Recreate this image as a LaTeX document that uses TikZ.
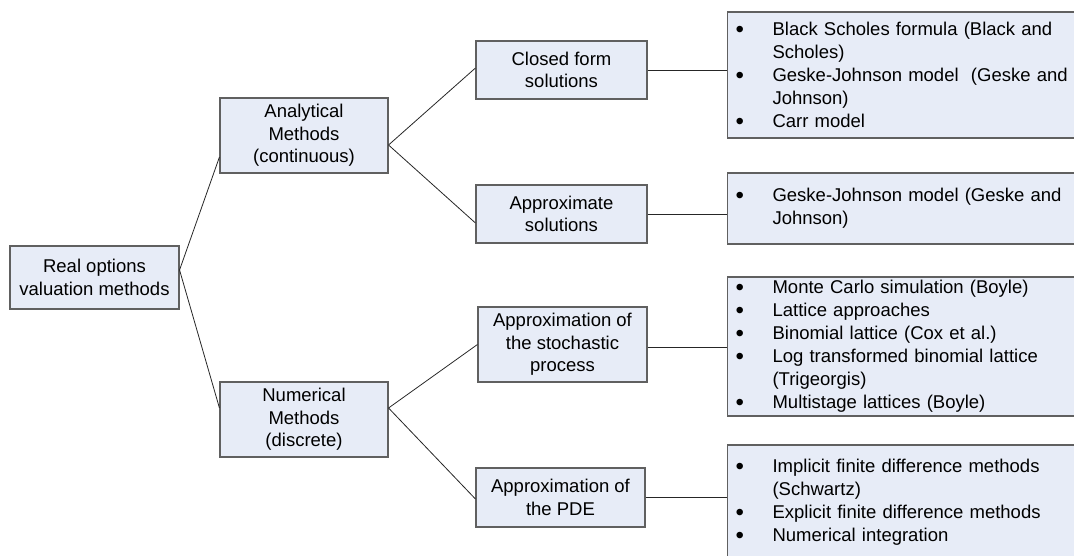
\documentclass[tikz,border=0pt]{standalone}
\usepackage{fontspec}
\setmainfont{Liberation Sans}
\usetikzlibrary{calc}
\definecolor{boxfill}{RGB}{231,236,247}
\definecolor{boxline}{RGB}{96,96,96}
\newcommand\rbul[1]{\makebox[35pt][l]{\hspace*{-2pt}\raisebox{-2pt}[0pt][0pt]{\scalebox{1.3}{\textbullet}}}#1}
\newcommand\rcont[1]{\hspace*{35pt}#1}
\begin{document}
\begin{tikzpicture}[x=1pt,y=-1pt,
  box/.style={draw=boxline,fill=boxfill,line width=1.1pt,inner sep=0pt,align=center,
    font=\fontsize{18.5}{22.5}\selectfont},
  listbox/.style={draw=boxline,fill=boxfill,line width=1.1pt,inner xsep=10pt,inner ysep=0pt,
    align=left,anchor=west,text width=400pt,font=\fontsize{18.5}{23}\selectfont},
  conn/.style={draw=black!85,line width=0.8pt}]
\useasboundingbox (0,0) rectangle (1074,556);

\node[box,minimum width=169pt,minimum height=63pt] (root) at (94.5,277.5) {Real options\\valuation methods};
\node[box,minimum width=168pt,minimum height=75pt] (anal) at (304,135.5) {Analytical\\Methods\\(continuous)};
\node[box,minimum width=168pt,minimum height=75pt] (num) at (304,419.5) {Numerical\\Methods\\(discrete)};
\node[box,minimum width=171pt,minimum height=58pt] (closed) at (561.5,70) {Closed form\\solutions};
\node[box,minimum width=171pt,minimum height=58pt] (approx) at (561.5,214) {Approximate\\solutions};
\node[box,minimum width=169pt,minimum height=75pt] (stoch) at (562.5,344.5) {Approximation of\\the stochastic\\process};
\node[box,minimum width=169pt,minimum height=59pt] (pde) at (560.5,497.5) {Approximation of\\the PDE};

\node[listbox,minimum height=126pt] (r1) at (727,75) {\rbul{Black Scholes formula (Black and}\\\rcont{Scholes)}\\\rbul{Geske-Johnson model\ \ (Geske and}\\\rcont{Johnson)}\\\rbul{Carr model}};
\node[listbox,minimum height=71pt] (r2) at (727,208.5) {\rbul{Geske-Johnson model (Geske and}\\\rcont{Johnson)}};
\node[listbox,minimum height=139pt] (r3) at (727,346.5) {\rbul{Monte Carlo simulation (Boyle)}\\\rbul{Lattice approaches}\\\rbul{Binomial lattice (Cox et al.)}\\\rbul{Log transformed binomial lattice}\\\rcont{(Trigeorgis)}\\\rbul{Multistage lattices (Boyle)}};
\node[listbox,minimum height=115pt] (r4) at (727,502.5) {\rbul{Implicit finite difference methods}\\\rcont{(Schwartz)}\\\rbul{Explicit finite difference methods}\\\rbul{Numerical integration}};

\draw[conn] ([yshift=7.5pt]root.east) -- ([yshift=-21.5pt]anal.west);
\draw[conn] ([yshift=7.5pt]root.east) -- ([yshift=11.5pt]num.west);
\draw[conn] ([yshift=-9.5pt]anal.east) -- ([yshift=2pt]closed.west);
\draw[conn] ([yshift=-9.5pt]anal.east) -- ([yshift=-9pt]approx.west);
\draw[conn] ([yshift=11.5pt]num.east) -- (stoch.west);
\draw[conn] ([yshift=11.5pt]num.east) -- ([yshift=-1.5pt]pde.west);
\draw[conn] (closed.east) -- (closed.east -| r1.west);
\draw[conn] (approx.east) -- (approx.east -| r2.west);
\draw[conn] ([yshift=-2.5pt]stoch.east) -- ([yshift=-2.5pt]stoch.east -| r3.west);
\draw[conn] (pde.east) -- (pde.east -| r4.west);
\end{tikzpicture}
\end{document}
